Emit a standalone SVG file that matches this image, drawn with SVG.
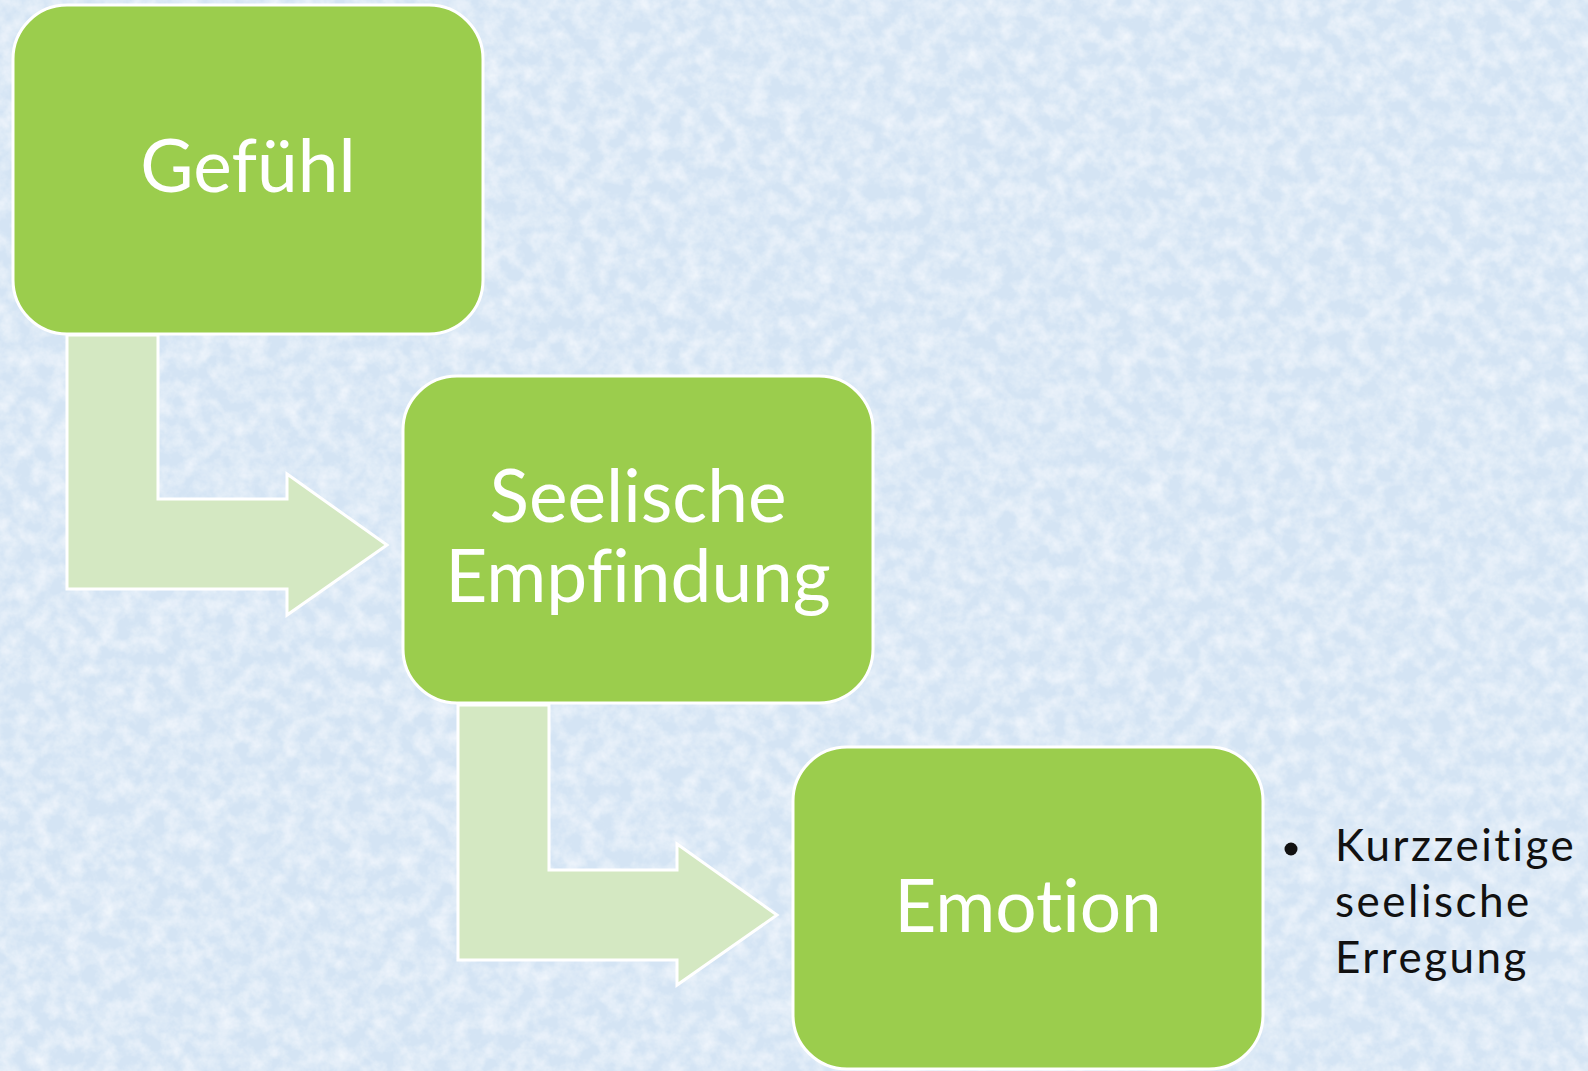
<svg xmlns="http://www.w3.org/2000/svg" width="1588" height="1071" viewBox="0 0 1588 1071">
<defs>
<filter id="tex" x="0" y="0" width="100%" height="100%">
<feTurbulence type="fractalNoise" baseFrequency="0.06" numOctaves="4" seed="7" result="n"/>
<feColorMatrix in="n" type="matrix" values="0 0 0 0 0.96  0 0 0 0 0.98  0 0 0 0 1  1.2 0 0 0 -0.4" result="c"/>
<feComposite in="c" in2="SourceGraphic" operator="over"/>
</filter>
<style>
.box{fill:#9bcd4d;stroke:#ffffff;stroke-width:3}
.arr{fill:#d4e8c2;stroke:#ffffff;stroke-width:3;stroke-linejoin:miter}
.lbl{font-family:Lato,"Liberation Sans",sans-serif;fill:#ffffff;font-size:73px;text-anchor:middle;font-variant-ligatures:none}
.side{font-family:Lato,"Liberation Sans",sans-serif;fill:#111111;font-size:44px;letter-spacing:2.5px;font-variant-ligatures:none}
</style>
</defs>
<rect x="0" y="0" width="1588" height="1071" fill="#d4e4f4" filter="url(#tex)"/>
<g id="connectors">
<path class="arr" d="M67,335 H158 V499 H287 V474 L387,545 L287,615 V589 H67 Z"/>
<path class="arr" d="M458,705 H549 V870 H677 V844 L777,915 L677,985 V960 H458 Z"/>
</g>
<g id="node-gefuehl">
<rect class="box" x="13" y="5" width="470" height="329" rx="54" ry="54"/>
<text class="lbl" x="248" y="192">Gefühl</text>
</g>
<g id="node-seelische">
<rect class="box" x="403" y="376" width="470" height="327" rx="54" ry="54"/>
<text class="lbl" x="638" y="522">Seelische</text>
<text class="lbl" x="638" y="602">Empfindung</text>
</g>
<g id="node-emotion">
<rect class="box" x="793" y="747" width="470" height="322" rx="54" ry="54"/>
<text class="lbl" x="1028" y="932">Emotion</text>
</g>
<g id="note">
<circle cx="1291" cy="849" r="6.5" fill="#111111"/>
<text class="side" x="1335" y="861">Kurzzeitige</text>
<text class="side" x="1335" y="917">seelische</text>
<text class="side" x="1335" y="973">Erregung</text>
</g>
</svg>
